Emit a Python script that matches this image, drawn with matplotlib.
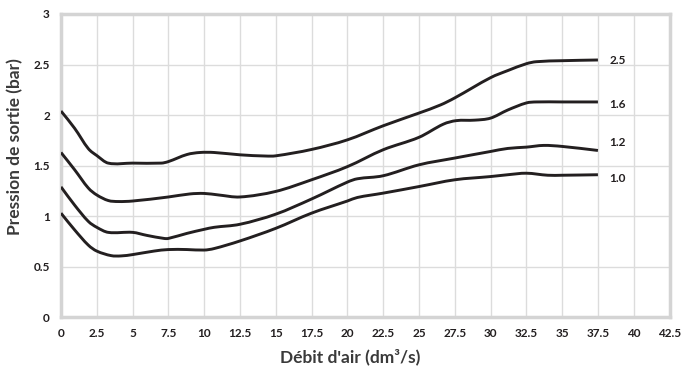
import matplotlib
matplotlib.use('Agg')
import matplotlib.pyplot as plt
import numpy
from matplotlib.path import Path
from matplotlib.patches import PathPatch

# curves (x = air flow dm3/s, y = outlet pressure bar)
x_25 = [0, 0.95, 1.9, 2.5, 3.3, 5, 7.0, 7.5, 8.8, 9.7, 10.7, 12.5, 14.3, 15, 17.5, 20,
        22.5, 25, 26.5, 27.5, 30, 31.2, 32.5, 33.2, 35, 37.5]
y_25 = [2.04, 1.87, 1.67, 1.60, 1.525, 1.525, 1.525, 1.54, 1.61, 1.63, 1.63, 1.607, 1.595,
        1.597, 1.66, 1.755, 1.894, 2.02, 2.10, 2.17, 2.37, 2.44, 2.508, 2.528, 2.538, 2.545]

x_16 = [0, 0.95, 1.9, 2.5, 3.3, 4.0, 5, 7.5, 9.0, 10, 11, 12.5, 15, 17.5, 20, 22.5, 25,
        26.7, 27.6, 28.9, 30, 31.2, 32.5, 33.2, 35, 37.5]
y_16 = [1.63, 1.46, 1.28, 1.21, 1.155, 1.145, 1.15, 1.19, 1.22, 1.225, 1.21, 1.19, 1.245,
        1.36, 1.49, 1.657, 1.78, 1.91, 1.945, 1.95, 1.97, 2.05, 2.12, 2.13, 2.13, 2.13]

x_12 = [0, 0.95, 1.9, 2.5, 3.3, 5, 6.0, 7.2, 7.5, 8.8, 10, 10.7, 12.5, 15, 17.5, 20, 20.7,
        22.5, 25, 27.5, 30, 31.2, 32.5, 33.7, 35, 37.5]
y_12 = [1.29, 1.11, 0.95, 0.89, 0.84, 0.84, 0.81, 0.78, 0.78, 0.83, 0.87, 0.89, 0.92, 1.02,
        1.17, 1.337, 1.37, 1.40, 1.508, 1.575, 1.64, 1.67, 1.683, 1.70, 1.69, 1.65]

x_10 = [0, 0.95, 1.9, 2.5, 3.5, 4.2, 5, 6.5, 7.5, 8.8, 10, 10.7, 12.5, 15, 17.5, 20, 20.7,
        22.5, 25, 27.5, 30, 31.2, 32.5, 34, 35, 37.5]
y_10 = [1.03, 0.865, 0.715, 0.655, 0.61, 0.607, 0.62, 0.655, 0.67, 0.67, 0.665, 0.68, 0.755,
        0.88, 1.03, 1.15, 1.185, 1.228, 1.293, 1.36, 1.392, 1.41, 1.425, 1.405, 1.405, 1.41]

curve_labels = ['2.5', '1.6', '1.2', '1.0']
label_y = [2.54, 2.10, 1.73, 1.375]

xticks = numpy.arange(0, 42.51, 2.5)
yticks = numpy.arange(0, 3.01, 0.5)


def smoothPath(xs, ys):
    # hermite segments through the read points, drawn as cubic bezier
    xs = numpy.asarray(xs, dtype=float)
    ys = numpy.asarray(ys, dtype=float)
    n = len(xs)
    slopes = numpy.zeros(n)
    slopes[0] = (ys[1] - ys[0]) / (xs[1] - xs[0])
    slopes[-1] = (ys[-1] - ys[-2]) / (xs[-1] - xs[-2])
    for i in range(1, n - 1):
        slopes[i] = (ys[i + 1] - ys[i - 1]) / (xs[i + 1] - xs[i - 1])
    verts = [(xs[0], ys[0])]
    codes = [Path.MOVETO]
    for i in range(n - 1):
        h = xs[i + 1] - xs[i]
        verts.append((xs[i] + h / 3, ys[i] + slopes[i] * h / 3))
        verts.append((xs[i + 1] - h / 3, ys[i + 1] - slopes[i + 1] * h / 3))
        verts.append((xs[i + 1], ys[i + 1]))
        codes += [Path.CURVE4] * 3
    return Path(verts, codes)


plt.rcParams['font.family'] = ['Lato', 'DejaVu Sans']

fig = plt.figure(figsize=(6.82, 3.68), dpi=100)
ax = fig.add_axes([0.0894, 0.1378, 0.8923, 0.8242])

for xs, ys in [(x_25, y_25), (x_16, y_16), (x_12, y_12), (x_10, y_10)]:
    patch = PathPatch(smoothPath(xs, ys), facecolor='none', edgecolor='#231f20',
                      linewidth=2.1, capstyle='butt', joinstyle='round', zorder=3)
    ax.add_patch(patch)

for lab, ly in zip(curve_labels, label_y):
    ax.text(38.3, ly, lab, fontsize=8.5, fontweight='bold', color='#231f20',
            va='center', ha='left')

ax.set_xlim(0, 42.5)
ax.set_ylim(0, 3)
ax.set_xticks(xticks)
ax.set_xticklabels(['%g' % v for v in xticks])
ax.set_yticks(yticks)
ax.set_yticklabels(['%g' % v for v in yticks])
ax.grid(True, color='#dcdcdc', linewidth=1.0, zorder=0)
ax.set_axisbelow(True)

for s in ax.spines.values():
    s.set_color('#d4d4d4')
    s.set_linewidth(2.5)

ax.tick_params(length=0, labelsize=8.5, colors='#231f20', pad=8)
for t in ax.get_xticklabels() + ax.get_yticklabels():
    t.set_fontweight('bold')

fig.text(350 / 682, 1 - 357 / 368, "Débit d'air (dm³/s)", fontsize=12.5, fontweight='bold',
         color='#3a3a3a', ha='center', va='center')
fig.text(15.5 / 682, 1 - 147 / 368, 'Pression de sortie (bar)', fontsize=12.5,
         fontweight='bold', color='#3a3a3a', ha='center', va='center', rotation=90)

plt.savefig('out.png', dpi=100)
